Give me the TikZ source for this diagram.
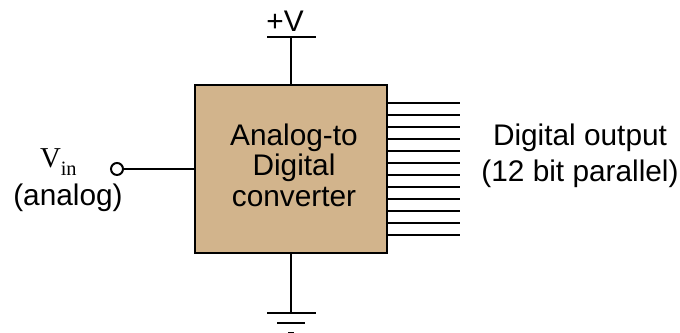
\documentclass[tikz,border=0pt]{standalone}
\usepackage{fontspec}
\setmainfont{Liberation Sans}
\newfontfamily\serifface{Liberation Serif}
\usetikzlibrary{calc,positioning}
\definecolor{adctan}{RGB}{210,180,140}

\begin{document}
\begin{tikzpicture}[line width=1.4pt,
   every node/.style={font=\fontsize{21.2pt}{25.5pt}\selectfont,align=center,inner sep=0pt,outer sep=0pt},
   term/.style={circle,draw,fill=white,minimum size=0.3cm,line width=1.4pt}]
   \useasboundingbox (0,0) rectangle (17,8.325);
   \node[draw,fill=adctan,minimum width=4.8cm,minimum height=4.2cm] (adc) at (7.275,4.1) {};
   \node[font=\fontsize{21.2pt}{21.6pt}\selectfont] (adctext) at (7.35,4.2) {Analog-to\\Digital\\converter};
   % supply
   \coordinate (vcc) at (7.275,7.4);
   \coordinate (vccl) at (6.675,7.4);
   \coordinate (vccr) at (7.9,7.4);
   \node (vcclabel) at (7.125,7.8) {+V};
   \draw (adc.north) -- (vcc);
   \draw (vccl) -- (vccr);
   % ground
   \coordinate (gnd) at (7.275,0.5);
   \coordinate (gndl) at (6.675,0.5);
   \coordinate (gndr) at (7.9,0.5);
   \coordinate (gndml) at (6.925,0.24);
   \coordinate (gndmr) at (7.625,0.24);
   \coordinate (gndsl) at (7.2,0);
   \coordinate (gndsr) at (7.35,0);
   \draw (adc.south) -- (gnd);
   \draw (gndl) -- (gndr);
   \draw (gndml) -- (gndmr);
   \draw (gndsl) -- (gndsr);
   % input
   \node[term] (vin) at (2.925,4.1) {};
   \draw (vin) -- (vin -| adc.west);
   \node[anchor=base west] (vinlabel) at (1,4.125) {\serifface\fontsize{20.5pt}{21pt}\selectfont V\raisebox{-5pt}{\fontsize{14.5pt}{15pt}\selectfont in}};
   \node (analog) at (1.7,3.38) {(analog)};
   % outputs
   \foreach \i in {0,...,11} {
      \coordinate (out\i) at (11.5,{5.75-0.3*\i});
      \draw (out\i -| adc.east) -- (out\i);
   }
   \node (outtext) at (14.5,4.425) {Digital output\\(12 bit parallel)};
\end{tikzpicture}
\end{document}
